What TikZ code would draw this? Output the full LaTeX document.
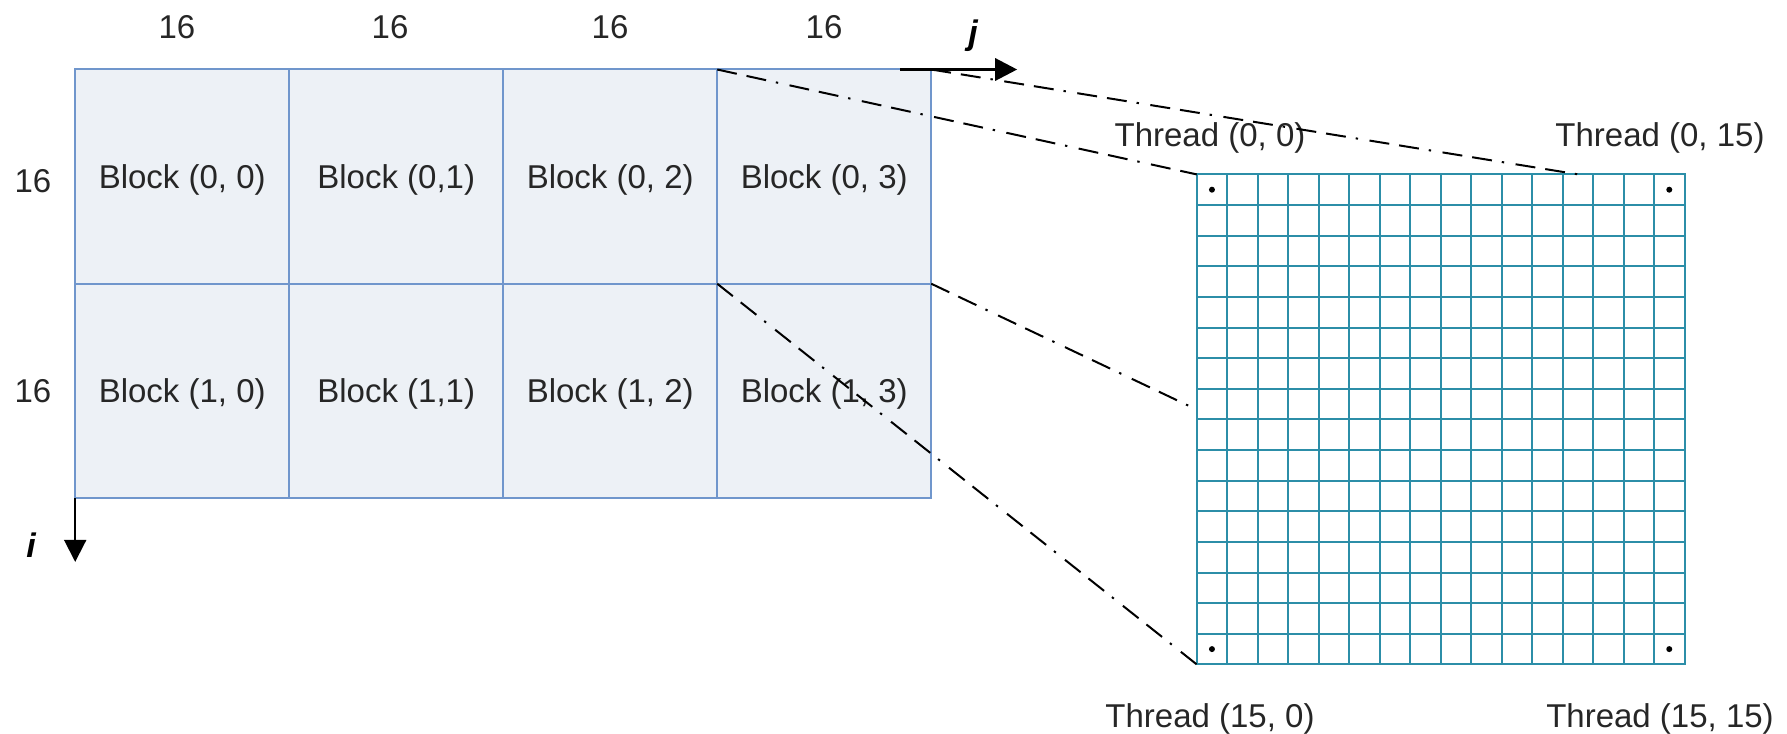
\documentclass[tikz,border=0pt]{standalone}
\usepackage{fontspec}
\setmainfont{Liberation Sans}
\usetikzlibrary{arrows.meta,calc}
\definecolor{blockline}{RGB}{112,150,204}
\definecolor{blockfill}{RGB}{237,241,246}
\definecolor{threadline}{RGB}{44,142,168}
\definecolor{txt}{RGB}{38,38,38}
\begin{document}
\begin{tikzpicture}[x=0.5pt,y=-0.5pt,
  lbl/.style={font=\fontsize{16.5}{19}\selectfont, text=txt, inner sep=0pt},
  axislbl/.style={font=\fontsize{17}{19}\selectfont\bfseries\itshape, text=black, inner sep=0pt},
  blockcell/.style={lbl, draw=blockline, fill=blockfill, line width=1pt,
    text height=15.2pt, text depth=3.5pt,
    minimum width=107pt, minimum height=107.1pt, outer sep=0pt},
  tgrid/.style={draw=threadline, fill=white, line width=1pt,
    minimum width=243.9pt, minimum height=245pt, inner sep=0pt, outer sep=0pt},
  tline/.style={draw=threadline, line width=1pt},
  dashdot/.style={draw=black, line width=1pt,
    dash pattern=on 10pt off 5pt on 10pt off 5pt on 1.2pt off 5.8pt},
  axisarrow/.style={draw=black, -{Triangle[length=11pt,width=11pt]}},
  dot/.style={fill=black}
]
\useasboundingbox (0,0) rectangle (1787,733);

% block grid: 2 rows x 4 columns
\node[blockcell] (b00) at (182.2,176.6) {Block (0, 0)};
\node[blockcell] (b01) at (396.2,176.6) {Block (0,1)};
\node[blockcell] (b02) at (610.2,176.6) {Block (0, 2)};
\node[blockcell] (b03) at (824.2,176.6) {Block (0, 3)};
\node[blockcell] (b10) at (182.2,390.8) {Block (1, 0)};
\node[blockcell] (b11) at (396.2,390.8) {Block (1,1)};
\node[blockcell] (b12) at (610.2,390.8) {Block (1, 2)};
\node[blockcell] (b13) at (824.2,390.8) {Block (1, 3)};

% block dimensions
\node[lbl] (w0) at (177,27) {16};
\node[lbl] (w1) at (390,27) {16};
\node[lbl] (w2) at (610,27) {16};
\node[lbl] (w3) at (824,27) {16};
\node[lbl] (h0) at (33,181) {16};
\node[lbl] (h1) at (33,391) {16};

% axes
\coordinate (jstart) at ($(b03.north east)+(-31,0)$);
\coordinate (jtip) at ($(b03.north east)+(86,0)$);
\draw[axisarrow, line width=1.6pt] (jstart) -- (jtip);
\node[axislbl] (jl) at (973,36) {j};
\coordinate (itip) at ($(b10.south west)+(0,64)$);
\draw[axisarrow, line width=1pt] (b10.south west) -- (itip);
\node[axislbl] (il) at (31,545) {i};

% thread grid: 16 x 16
\node[tgrid] (tg) at (1440.6,419.4) {};
\foreach \k in {1,...,15} {
  \draw[tline] ($(tg.north west)!\k/16!(tg.north east)$) -- ($(tg.south west)!\k/16!(tg.south east)$);
  \draw[tline] ($(tg.north west)!\k/16!(tg.south west)$) -- ($(tg.north east)!\k/16!(tg.south east)$);
}
\draw[tline] (tg.north west) rectangle (tg.south east);

% corner threads
\fill[dot] ($(tg.north west)+(15.25,15.3)$) circle (1.5pt);
\fill[dot] ($(tg.north east)+(-15.25,15.3)$) circle (1.5pt);
\fill[dot] ($(tg.south west)+(15.25,-15.3)$) circle (1.5pt);
\fill[dot] ($(tg.south east)+(-15.25,-15.3)$) circle (1.5pt);

\node[lbl] (t00) at (1210,138) {Thread (0, 0)};
\node[lbl] (t015) at (1660,138) {Thread (0, 15)};
\node[lbl] (t150) at (1210,719) {Thread (15, 0)};
\node[lbl] (t1515) at (1660,719) {Thread (15, 15)};

% edges of the last block column projected onto the thread grid
\coordinate (tgtop) at ($(tg.north west)!0.782!(tg.north east)$);
\coordinate (tgleft) at ($(tg.north west)!0.48!(tg.south west)$);
\draw[dashdot] (b03.north west) -- (tg.north west);
\draw[dashdot] (b03.north east) -- (tgtop);
\draw[dashdot] (b13.north west) -- (tg.south west);
\draw[dashdot] (b13.north east) -- (tgleft);
\end{tikzpicture}
\end{document}
